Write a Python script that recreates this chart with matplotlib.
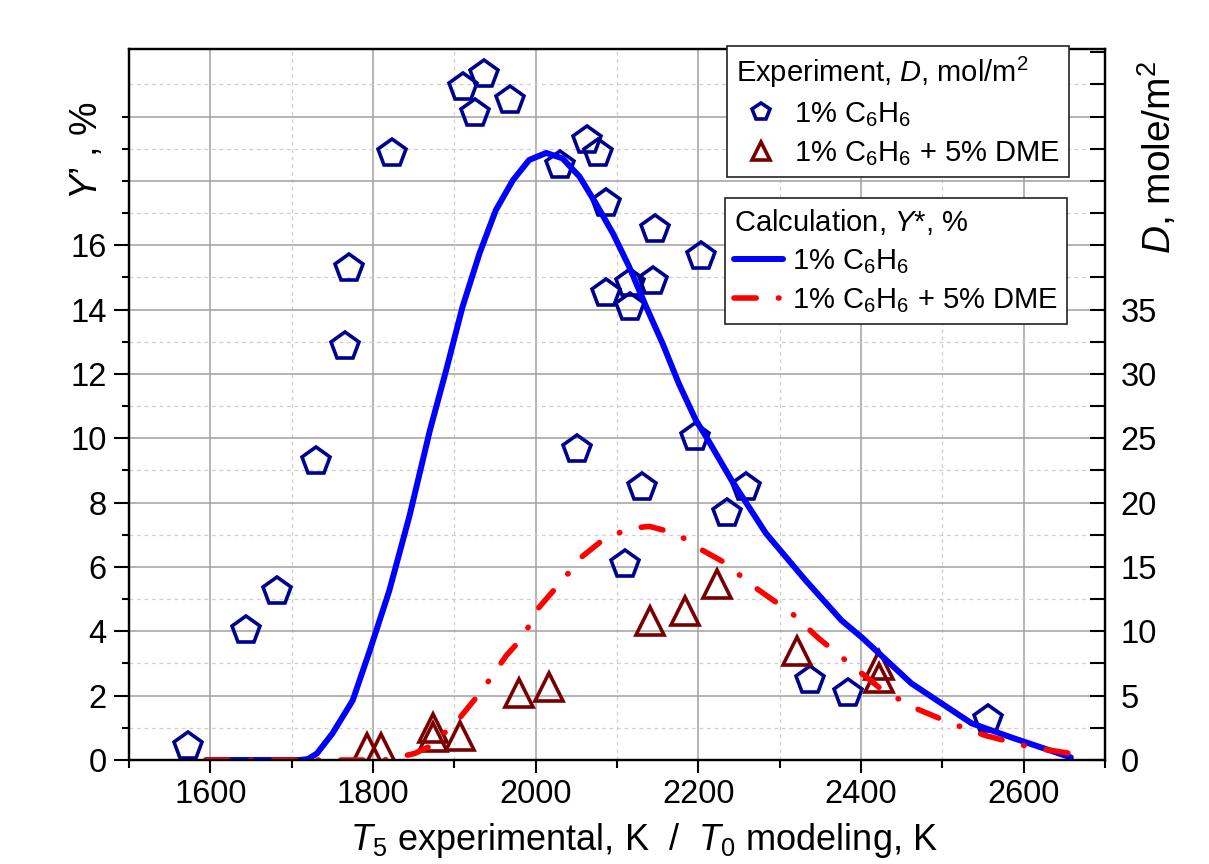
import numpy as np
import matplotlib
matplotlib.use("Agg")
import matplotlib.pyplot as plt

plt.rcParams['font.family'] = ['Liberation Sans', 'DejaVu Sans']
plt.rcParams['mathtext.fontset'] = 'custom'
plt.rcParams['mathtext.rm'] = 'Liberation Sans'
plt.rcParams['mathtext.it'] = 'Liberation Sans:italic'
plt.rcParams['mathtext.bf'] = 'Liberation Sans:bold'

#################################
######### data (read off) #######
#################################
# experiment, 1% C6H6 : T5 [K], D [mol/m2]
exp_c6h6_T = [1572, 1644, 1682, 1730, 1765, 1770, 1823, 1911, 1937, 1926,
              1969, 2030, 2063, 2077, 2087, 2147, 2203, 2086, 2116, 2116,
              2144, 2051, 2196, 2258, 2131, 2235, 2110, 2337, 2384, 2556]
exp_c6h6_D = [1.05, 10.1, 13.1, 23.2, 32.2, 38.2, 47.2, 52.3, 53.3, 50.3,
              51.3, 46.2, 48.2, 47.2, 43.3, 41.3, 39.2, 36.3, 37.1, 35.2,
              37.2, 24.2, 25.1, 21.2, 21.2, 19.2, 15.2, 6.2, 5.2, 3.2]

# experiment, 1% C6H6 + 5% DME
exp_dme_T = [1793, 1810, 1874, 1874, 1907, 1980, 2017, 2141, 2184, 2223,
             2321, 2422, 2422]
exp_dme_D = [0.9, 0.9, 2.5, 1.75, 1.9, 5.2, 5.7, 10.8, 11.6, 13.7,
             8.5, 7.35, 6.35]

# calculation, Y* [%] vs T0 [K]
calc_c6h6_T = [1595, 1710, 1720, 1731, 1750, 1775, 1796, 1820, 1845, 1870,
               1890, 1910, 1931, 1951, 1972, 1992, 2013, 2033, 2054, 2074,
               2095, 2115, 2136, 2156, 2176, 2197, 2210, 2241, 2283, 2332,
               2376, 2401, 2462, 2536, 2585, 2658]
calc_c6h6_Y = [0.0, 0.0, 0.03, 0.2, 0.82, 1.85, 3.40, 5.26, 7.60, 10.25,
               12.12, 14.08, 15.75, 17.09, 18.02, 18.65, 18.87, 18.70, 18.13, 17.30,
               16.37, 15.33, 14.08, 12.95, 11.70, 10.56, 10.03, 8.69, 7.05, 5.58,
               4.34, 3.81, 2.38, 1.14, 0.70, 0.08]

calc_dme_T = [1595, 1814, 1824, 1851, 1872, 1906, 1934, 1964, 1984, 2004,
              2020, 2041, 2056, 2082, 2115, 2140, 2173, 2205, 2232, 2266,
              2289, 2315, 2348, 2381, 2422, 2462, 2511, 2553, 2610, 2659]
calc_dme_Y = [0.0, 0.0, 0.05, 0.2, 0.45, 1.29, 2.16, 3.25, 3.81, 4.74,
              5.21, 5.83, 6.30, 6.83, 7.20, 7.26, 7.04, 6.52, 6.14, 5.43,
              5.02, 4.56, 3.78, 3.10, 2.26, 1.66, 1.14, 0.76, 0.39, 0.2]

y_max = 22.1          # left axis top, Y' %
d_per_y = 2.5         # right axis D = 2.5 * Y

#################################
######### figure ################
#################################
W, H = 1209, 864
fig = plt.figure(figsize=(W / 100, H / 100), dpi=100)
ax = fig.add_axes([129 / W, 1 - 760 / H, (1105 - 129) / W, (760 - 49) / H])
ax2 = ax.twinx()

# curves on top of the markers
ax.set_zorder(2)
ax.patch.set_visible(False)
ax2.set_zorder(1)

ax.set_xlim(1500, 2700)
ax.set_ylim(0, y_max)
ax2.set_ylim(0, y_max * d_per_y)

# grid (drawn in ax2 so it sits under the markers)
for v in range(1600, 2601, 200):
    ax2.axvline(v, color='#a0a0a0', lw=1.1, zorder=0)
for v in range(1700, 2701, 200):
    ax2.axvline(v, color='#cfcfcf', lw=0.9, ls=(0, (3, 3)), zorder=0)
ytr = ax.get_yaxis_transform()
for v in range(2, 22, 2):
    ax2.plot([0, 1], [v, v], transform=ytr, color='#a0a0a0', lw=1.1, zorder=0)
for v in range(1, 23, 2):
    ax2.plot([0, 1], [v, v], transform=ytr, color='#cfcfcf', lw=0.9, ls=(0, (3, 3)), zorder=0)

# experiment markers (right axis)
h_p, = ax2.plot(exp_c6h6_T, exp_c6h6_D, ls='none', marker='p', ms=20.5,
                mfc='none', mec='#000090', mew=2.6, zorder=3)
h_t, = ax2.plot(exp_dme_T, exp_dme_D, ls='none', marker='^', ms=19.5,
                mfc='none', mec='#780000', mew=2.6, zorder=3)

# calculation curves (left axis)
h_b, = ax.plot(calc_c6h6_T, calc_c6h6_Y, color='#0000ff', lw=4.3,
               solid_capstyle='round', solid_joinstyle='round')
h_r, = ax.plot(calc_dme_T, calc_dme_Y, color='#ff0000', lw=4.0,
               ls=(0, (4, 4, 0.1, 4)), dash_capstyle='round')

# ticks
ax.set_xticks(range(1600, 2601, 200))
ax.set_xticks(range(1500, 2701, 200), minor=True)
ax.set_yticks(range(0, 17, 2))
ax.set_yticks([1, 3, 5, 7, 9, 11, 13, 15, 17, 18, 19, 20], minor=True)
ax.tick_params(axis='x', which='major', direction='out', length=9, width=1.5,
               labelsize=23.5, pad=5, top=False)
ax.tick_params(axis='x', which='minor', direction='out', length=6, width=1.5, top=False)
ax.tick_params(axis='y', which='major', direction='out', length=11, width=1.5,
               labelsize=23.5, pad=5, right=False)
ax.tick_params(axis='y', which='minor', direction='out', length=5, width=1.5, right=False)

d_ticks = list(range(0, 56, 5))
ax2.set_yticks(d_ticks)
ax2.set_yticklabels([str(t) if t <= 35 else '' for t in d_ticks])
ax2.set_yticks(np.arange(2.5, 55, 5), minor=True)
ax2.tick_params(axis='y', which='both', direction='in', length=11, width=1.5,
                labelsize=23.5, pad=11)

for a in (ax, ax2):
    for s in a.spines.values():
        s.set_linewidth(1.6)

# axis labels
fig.text(644 / W, 1 - 850 / H,
         r"$\mathit{T}_{\mathit{5}}$ experimental, K  /  $\mathit{T}_{\mathit{0}}$ modeling, K",
         ha='center', va='baseline', fontsize=26)
fig.text(87 / W, 1 - 151 / H, r"$\mathit{Y}$’ , %", rotation=90,
         ha='center', va='center', fontsize=27)
fig.text(1157 / W, 1 - 157 / H, r"$\mathit{D}$, mole/m$^2$", rotation=90,
         ha='center', va='center', fontsize=28)

# legends
leg_kw = dict(loc='upper left', bbox_transform=fig.transFigure, borderaxespad=0,
              alignment='left', fontsize=21, title_fontsize=21, frameon=True,
              fancybox=False, edgecolor='#222222', framealpha=1,
              handlelength=1.7, handletextpad=0.3, borderpad=0.3, labelspacing=0.35)
leg1 = ax.legend([h_p, h_t],
                 [r"1% $\mathrm{C_6H_6}$", r"1% $\mathrm{C_6H_6}$ + 5% DME"],
                 title=r"Experiment, $\mathit{D}$, mol/m$^2$",
                 bbox_to_anchor=(727 / W, 1 - 46 / H), markerscale=0.65, **leg_kw)
leg1.get_frame().set_linewidth(1.2)
ax.add_artist(leg1)
leg2 = ax.legend([h_b, h_r],
                 [r"1% $\mathrm{C_6H_6}$", r"1% $\mathrm{C_6H_6}$ + 5% DME"],
                 title=r"Calculation, $\mathit{Y}$*, %",
                 bbox_to_anchor=(725 / W, 1 - 198 / H), **leg_kw)
leg2.get_frame().set_linewidth(1.2)

fig.savefig("out.png", dpi=100, facecolor='white')
